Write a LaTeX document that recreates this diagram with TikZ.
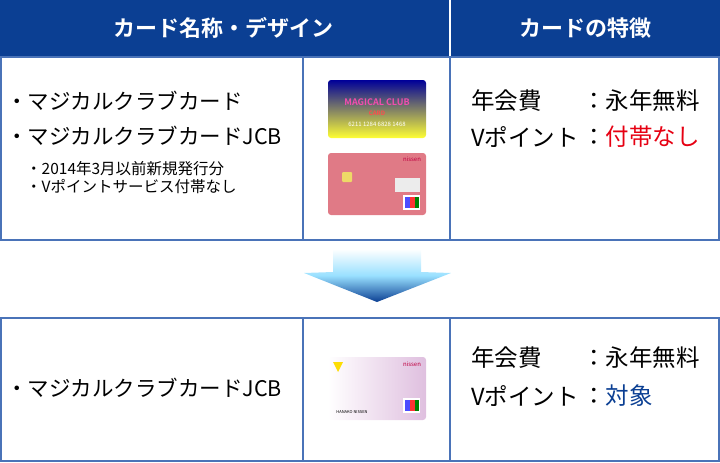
\documentclass[tikz,border=0pt]{standalone}
\usepackage{fontspec}
\setmainfont{Noto Sans CJK JP}[BoldFont={Noto Sans CJK JP Bold}]
\definecolor{hdr}{HTML}{0B3F93}
\definecolor{bd}{HTML}{4A73B8}
\definecolor{rd}{HTML}{E60012}
\definecolor{bl}{HTML}{0B3F93}
\definecolor{pk}{HTML}{E07A86}
\begin{document}
\begin{tikzpicture}[x=1pt,y=-1pt,
 txt/.style={anchor=west,inner sep=0,font=\fontsize{21.5}{24}\selectfont},
 rtx/.style={anchor=west,inner sep=0,font=\fontsize{23.5}{26}\selectfont},
 sm/.style={anchor=west,inner sep=0,font=\fontsize{15.5}{17}\selectfont},
 hd/.style={text=white,font=\fontsize{22}{24}\selectfont\bfseries},
 grid/.style={draw=bd,line width=1.6pt}]
\useasboundingbox (0,0) rectangle (720,463);
\fill[hdr] (0,0) rectangle (720,57);
\draw[white,line width=1.6pt] (450,0) -- (450,57);
\node[hd] (h1) at (223,28) {カード名称・デザイン};
\node[hd] (h2) at (585,28) {カードの特徴};
% top row
\draw[grid] (1,57) rectangle (719,240);
\draw[grid] (303,57) -- (303,240) (450,57) -- (450,240);
% bottom row
\draw[grid] (1,318) rectangle (719,461);
\draw[grid] (303,318) -- (303,461) (450,318) -- (450,461);
% arrow
\shade[top color=white,bottom color=hdr,middle color=blue!30!cyan!40!white] (333,249) -- (421,249) -- (421,272) -- (451,273) -- (377,302) -- (304,273) -- (333,272) -- cycle;
% texts top
\node[txt] (a1) at (6,101) {・マジカルクラブカード};
\node[txt] (a2) at (6,136) {・マジカルクラブカードJCB};
\node[sm] (a3) at (26,169) {・2014年3月以前新規発行分};
\node[sm] (a4) at (26,187) {・Vポイントサービス付帯なし};
\node[rtx] (f1) at (471,101) {年会費};
\node[rtx] (f2) at (582,101) {：永年無料};
\node[rtx] (f3) at (471,137) {Vポイント};
\node[rtx] (f4) at (582,137) {：\textcolor{rd}{付帯なし}};
% cards top
\shade[rounded corners=3pt,top color=blue!60!black,bottom color=yellow!80] (328,80) rectangle (426,138);
\node[font=\fontsize{9}{10}\selectfont\bfseries,text=magenta!70] (c1) at (377,102) {MAGICAL CLUB};
\node[font=\fontsize{6}{7}\selectfont\bfseries,text=red!70] (c1b) at (377,113) {CARD};
\node[font=\fontsize{6}{7}\selectfont,text=white] (c1c) at (377,124) {6211 1284 6828 1468};
\fill[rounded corners=3pt,pk] (328,153) rectangle (426,215);
\fill[yellow!60!brown!70,rounded corners=1pt] (342,172) rectangle (352,182);
\fill[white!85!gray] (395,178) rectangle (420,192);
\fill[white] (403,195) rectangle (420,210);
\fill[blue!70] (405,197) rectangle (410,208);
\fill[red!80] (410,197) rectangle (415,208);
\fill[green!50!black] (415,197) rectangle (419,208);
\node[font=\fontsize{6}{7}\selectfont,text=purple] (c2) at (412,159) {nissen};
% bottom
\node[txt] (b1) at (6,388) {・マジカルクラブカードJCB};
\node[rtx] (g1) at (471,358) {年会費};
\node[rtx] (g2) at (582,358) {：永年無料};
\node[rtx] (g3) at (471,396) {Vポイント};
\node[rtx] (g4) at (582,396) {：\textcolor{bl}{対象}};
\shade[rounded corners=3pt,left color=white,right color=violet!25] (328,357) rectangle (426,420);
\fill[yellow!80!orange] (333,362) -- (343,362) -- (338,372) -- cycle;
\node[font=\fontsize{6}{7}\selectfont,text=purple] (c3) at (412,364) {nissen};
\node[font=\fontsize{4}{5}\selectfont] (c3b) at (352,412) {HANAKO NISSEN};
\fill[white] (403,398) rectangle (420,413);
\fill[blue!70] (405,400) rectangle (410,411);
\fill[red!80] (410,400) rectangle (415,411);
\fill[green!50!black] (415,400) rectangle (419,411);
\end{tikzpicture}
\end{document}
